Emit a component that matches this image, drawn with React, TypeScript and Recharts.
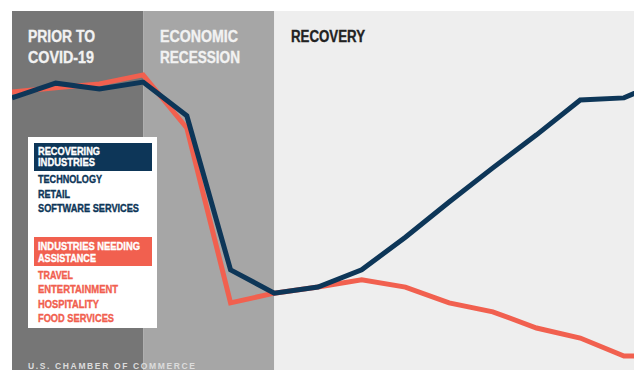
import React from "react";
import { LineChart, Line, XAxis, YAxis, ReferenceArea } from "recharts";

// index of the period along the x axis (last one runs off the right edge)
const periods = [0, 1, 2, 3, 4, 5, 6, 7, 8, 9, 10, 11, 12, 13, 14, 15];
// relative activity index (0..100)
const recovering = [75.8, 79.9, 78.3, 80.2, 70.8, 27.9, 21.4, 23.1, 27.9, 37.0, 46.8, 56.3, 65.5, 75.2, 75.8, 81];
const needingHelp = [77.4, 78.6, 79.7, 82.2, 67.4, 18.7, 21.4, 23.1, 25.1, 23.1, 18.7, 16.2, 11.7, 8.9, 3.9, 3.9];

const phases = [
  { from: 0, to: 3, fill: "#767676" },
  { from: 3, to: 6, fill: "#a6a6a6" },
  { from: 6, to: 14.23, fill: "#eeeeee" },
];

const recoveringList = ["TECHNOLOGY", "RETAIL", "SOFTWARE SERVICES"];
const needingList = ["TRAVEL", "ENTERTAINMENT", "HOSPITALITY", "FOOD SERVICES"];

const NAVY = "#0d3658";
const CORAL = "#f1604f";
const font = "'Liberation Sans', Arial, sans-serif";

// no condensed font installed, so squeeze each label to the width it has in the original
const widths: Record<string, number> = {
  "PRIOR TO": 67, "COVID-19": 66, ECONOMIC: 78, RECESSION: 80, RECOVERY: 74,
  RECOVERING: 62, INDUSTRIES: 57, TECHNOLOGY: 64, RETAIL: 32, "SOFTWARE SERVICES": 101,
  "INDUSTRIES NEEDING": 102, ASSISTANCE: 58, TRAVEL: 35, ENTERTAINMENT: 80, HOSPITALITY: 61, "FOOD SERVICES": 76,
};

// thin outline in the fill colour makes the text look as heavy as the original's
const T = ({ x, y, fill, children }: { x: number; y: number; fill: string; children: string }) => (
  <text x={x} y={y} fill={fill} stroke={fill} strokeWidth={0.35}
    textLength={widths[children]} lengthAdjust="spacingAndGlyphs">
    {children}
  </text>
);

export default function App() {
  const data = periods.map((p, i) => ({
    x: p,
    recovering: recovering[i],
    needing: needingHelp[i],
  }));

  return (
    <div style={{ position: "absolute", left: 0, top: 0, width: 634, height: 370, background: "#fff", overflow: "hidden" }}>
      <LineChart width={634} height={370} data={data} margin={{ top: 11, left: 12, right: 0, bottom: 0 }}>
        <XAxis type="number" dataKey="x" domain={[0, 14.23]} allowDataOverflow hide />
        <YAxis type="number" domain={[0, 100]} hide />
        {phases.map((ph) => (
          <ReferenceArea key={ph.from} x1={ph.from} x2={ph.to} fill={ph.fill} fillOpacity={1} stroke="none" />
        ))}
        <Line dataKey="needing" stroke={CORAL} strokeWidth={5} dot={false} isAnimationActive={false} />
        <Line dataKey="recovering" stroke={NAVY} strokeWidth={5} dot={false} isAnimationActive={false} />
      </LineChart>

      <svg width={634} height={370} style={{ position: "absolute", left: 0, top: 0 }}>
        <g fontFamily={font} fontWeight="bold" fontSize={16}>
          <T x={28} y={42} fill="#f2f2f2">PRIOR TO</T>
          <T x={28} y={63} fill="#f2f2f2">COVID-19</T>
          <T x={160} y={42} fill="#f2f2f2">ECONOMIC</T>
          <T x={160} y={63} fill="#f2f2f2">RECESSION</T>
          <T x={291} y={42} fill="#222">RECOVERY</T>
        </g>

        {/* legend card */}
        <rect x={28} y={137} width={129} height={191} fill="#fff" />
        <rect x={34} y={143} width={118} height={28} fill={NAVY} />
        <g fontFamily={font} fontWeight="bold" fontSize={10.5}>
          <T x={38} y={155} fill="#fff">RECOVERING</T>
          <T x={38} y={166} fill="#fff">INDUSTRIES</T>
          {recoveringList.map((t, i) => (
            <T key={t} x={38} y={183 + i * 14.5} fill={NAVY}>{t}</T>
          ))}
        </g>
        <rect x={34} y={237} width={118} height={29} fill={CORAL} />
        <g fontFamily={font} fontWeight="bold" fontSize={10.5}>
          <T x={38} y={250} fill="#fff">INDUSTRIES NEEDING</T>
          <T x={38} y={262} fill="#fff">ASSISTANCE</T>
          {needingList.map((t, i) => (
            <T key={t} x={38} y={279 + i * 14.3} fill={CORAL}>{t}</T>
          ))}
        </g>

        <text x={28} y={369} fill="#dcdcdc" fontFamily={font} fontWeight="bold" fontSize={8.5}
          textLength={167} lengthAdjust="spacing">
          U.S. CHAMBER OF COMMERCE
        </text>
      </svg>
    </div>
  );
}
